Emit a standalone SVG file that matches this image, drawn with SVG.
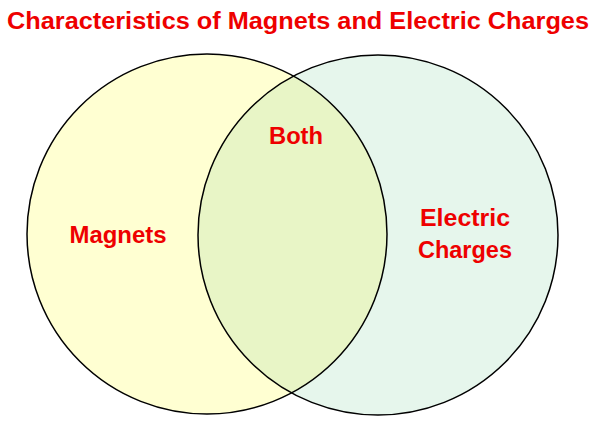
<svg xmlns="http://www.w3.org/2000/svg" width="600" height="424" viewBox="0 0 600 424">
<style>
text{font-family:"Liberation Sans",Arial,sans-serif;font-weight:bold;fill:#EE0000;text-anchor:middle}
.c{stroke:#000;stroke-width:1.5;fill:none}
</style>
<defs><clipPath id="cl"><circle cx="207" cy="234" r="180"/></clipPath></defs>
<rect width="600" height="424" fill="#fff"/>
<text x="298" y="29" font-size="23" textLength="582" lengthAdjust="spacingAndGlyphs">Characteristics of Magnets and Electric Charges</text>
<g id="magnets"><circle cx="207" cy="234" r="180" fill="#FFFFD2"/></g>
<g id="charges"><circle cx="378" cy="235" r="180" fill="#E6F6EC"/></g>
<g id="both"><circle cx="378" cy="235" r="180" fill="#E8F5C6" clip-path="url(#cl)"/></g>
<g id="outlines"><circle class="c" cx="207" cy="234" r="180"/><circle class="c" cx="378" cy="235" r="180"/></g>
<text x="118" y="243" font-size="23" textLength="97" lengthAdjust="spacingAndGlyphs">Magnets</text>
<text x="296" y="144" font-size="23" textLength="54" lengthAdjust="spacingAndGlyphs">Both</text>
<text x="465" y="226" font-size="23" textLength="90" lengthAdjust="spacingAndGlyphs">Electric</text>
<text x="465" y="258" font-size="23" textLength="94" lengthAdjust="spacingAndGlyphs">Charges</text>
</svg>
